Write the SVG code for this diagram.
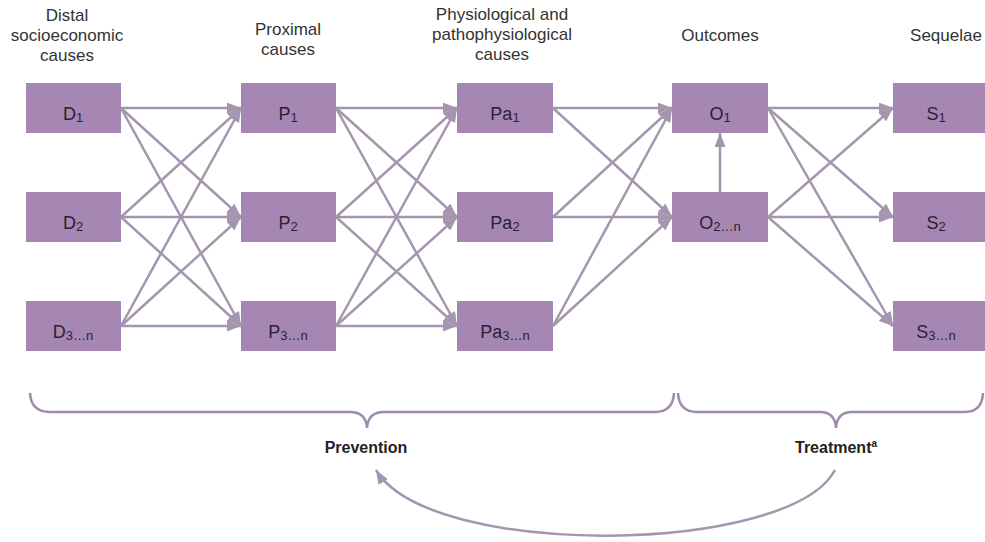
<svg xmlns="http://www.w3.org/2000/svg" width="985" height="542" viewBox="0 0 985 542">
<style>
.box{fill:#a687b4}
.lbl{font-family:"Liberation Sans",Arial,sans-serif;font-size:18px;fill:#2b2130;text-anchor:middle}
.sub{font-size:13px}
.hdr{font-family:"Liberation Sans",Arial,sans-serif;font-size:17px;fill:#333;text-anchor:middle}
.bold{font-family:"Liberation Sans",Arial,sans-serif;font-size:16px;font-weight:bold;fill:#222;text-anchor:middle}
.con line{stroke:#a595af;stroke-width:2.5;marker-end:url(#ah)}
.brace{fill:none;stroke:#9f8aab;stroke-width:2.5}
</style>
<defs>
<marker id="ah" markerUnits="userSpaceOnUse" markerWidth="15" markerHeight="11" refX="14" refY="5.5" orient="auto">
<path d="M0,0 L14,5.5 L0,11 z" fill="#a595af"/>
</marker>
</defs>
<rect width="985" height="542" fill="#fff"/>
<g id="headers">
<text class="hdr" x="67" y="21">Distal</text>
<text class="hdr" x="67" y="41">socioeconomic</text>
<text class="hdr" x="67" y="61">causes</text>
<text class="hdr" x="288" y="35">Proximal</text>
<text class="hdr" x="288" y="55">causes</text>
<text class="hdr" x="502" y="20">Physiological and</text>
<text class="hdr" x="502" y="40">pathophysiological</text>
<text class="hdr" x="502" y="60">causes</text>
<text class="hdr" x="720" y="41">Outcomes</text>
<text class="hdr" x="946" y="41">Sequelae</text>
</g>
<g id="connectors" class="con">
<line x1="121" y1="108" x2="241" y2="108"/>
<line x1="121" y1="108" x2="241" y2="217"/>
<line x1="121" y1="108" x2="241" y2="326"/>
<line x1="121" y1="217" x2="241" y2="108"/>
<line x1="121" y1="217" x2="241" y2="217"/>
<line x1="121" y1="217" x2="241" y2="326"/>
<line x1="121" y1="326" x2="241" y2="108"/>
<line x1="121" y1="326" x2="241" y2="217"/>
<line x1="121" y1="326" x2="241" y2="326"/>
<line x1="336" y1="108" x2="457" y2="108"/>
<line x1="336" y1="108" x2="457" y2="217"/>
<line x1="336" y1="108" x2="457" y2="326"/>
<line x1="336" y1="217" x2="457" y2="108"/>
<line x1="336" y1="217" x2="457" y2="217"/>
<line x1="336" y1="217" x2="457" y2="326"/>
<line x1="336" y1="326" x2="457" y2="108"/>
<line x1="336" y1="326" x2="457" y2="217"/>
<line x1="336" y1="326" x2="457" y2="326"/>
<line x1="553" y1="108" x2="672" y2="108"/>
<line x1="553" y1="108" x2="672" y2="217"/>
<line x1="553" y1="217" x2="672" y2="108"/>
<line x1="553" y1="217" x2="672" y2="217"/>
<line x1="553" y1="326" x2="672" y2="108"/>
<line x1="553" y1="326" x2="672" y2="217"/>
<line x1="768" y1="108" x2="893" y2="108"/>
<line x1="768" y1="108" x2="893" y2="217"/>
<line x1="768" y1="108" x2="893" y2="326"/>
<line x1="768" y1="217" x2="893" y2="108"/>
<line x1="768" y1="217" x2="893" y2="217"/>
<line x1="768" y1="217" x2="893" y2="326"/>
<line x1="720" y1="192" x2="720" y2="133"/>
</g>
<g id="D1"><rect class="box" x="26" y="83" width="95" height="50"/><text class="lbl" x="73" y="120">D<tspan class="sub" dy="2">1</tspan></text></g>
<g id="D2"><rect class="box" x="26" y="192" width="95" height="50"/><text class="lbl" x="73" y="229">D<tspan class="sub" dy="2">2</tspan></text></g>
<g id="D3n"><rect class="box" x="26" y="301" width="95" height="50"/><text class="lbl" x="73" y="338">D<tspan class="sub" dy="2">3…n</tspan></text></g>
<g id="P1"><rect class="box" x="241" y="83" width="95" height="50"/><text class="lbl" x="288" y="120">P<tspan class="sub" dy="2">1</tspan></text></g>
<g id="P2"><rect class="box" x="241" y="192" width="95" height="50"/><text class="lbl" x="288" y="229">P<tspan class="sub" dy="2">2</tspan></text></g>
<g id="P3n"><rect class="box" x="241" y="301" width="95" height="50"/><text class="lbl" x="288" y="338">P<tspan class="sub" dy="2">3…n</tspan></text></g>
<g id="Pa1"><rect class="box" x="457" y="83" width="96" height="50"/><text class="lbl" x="505" y="120">Pa<tspan class="sub" dy="2">1</tspan></text></g>
<g id="Pa2"><rect class="box" x="457" y="192" width="96" height="50"/><text class="lbl" x="505" y="229">Pa<tspan class="sub" dy="2">2</tspan></text></g>
<g id="Pa3n"><rect class="box" x="457" y="301" width="96" height="50"/><text class="lbl" x="505" y="338">Pa<tspan class="sub" dy="2">3…n</tspan></text></g>
<g id="O1"><rect class="box" x="672" y="83" width="96" height="50"/><text class="lbl" x="720" y="120">O<tspan class="sub" dy="2">1</tspan></text></g>
<g id="O2n"><rect class="box" x="672" y="192" width="96" height="50"/><text class="lbl" x="720" y="229">O<tspan class="sub" dy="2">2…n</tspan></text></g>
<g id="S1"><rect class="box" x="893" y="83" width="95" height="50"/><text class="lbl" x="936" y="120">S<tspan class="sub" dy="2">1</tspan></text></g>
<g id="S2"><rect class="box" x="893" y="192" width="95" height="50"/><text class="lbl" x="936" y="229">S<tspan class="sub" dy="2">2</tspan></text></g>
<g id="S3n"><rect class="box" x="893" y="301" width="95" height="50"/><text class="lbl" x="936" y="338">S<tspan class="sub" dy="2">3…n</tspan></text></g>
<g id="prevention">
<path class="brace" d="M30,393 Q31,412 50,412 L350,412 Q366,412 367,428 Q368,412 384,412 L655,412 Q673,412 674,393"/>
<text class="bold" x="366" y="453">Prevention</text>
</g>
<g id="treatment">
<path class="brace" d="M678,393 Q679,412 697,412 L820,412 Q835,412 836,428 Q837,412 852,412 L965,412 Q982,412 983,393"/>
<text class="bold" x="836" y="453">Treatment<tspan font-size="10" dy="-6">a</tspan></text>
</g>
<g id="feedback">
<path d="M835,470 C790,555 430,560 376,470" fill="none" stroke="#a595af" stroke-width="2.5" marker-end="url(#ah)"/>
</g>
</svg>
